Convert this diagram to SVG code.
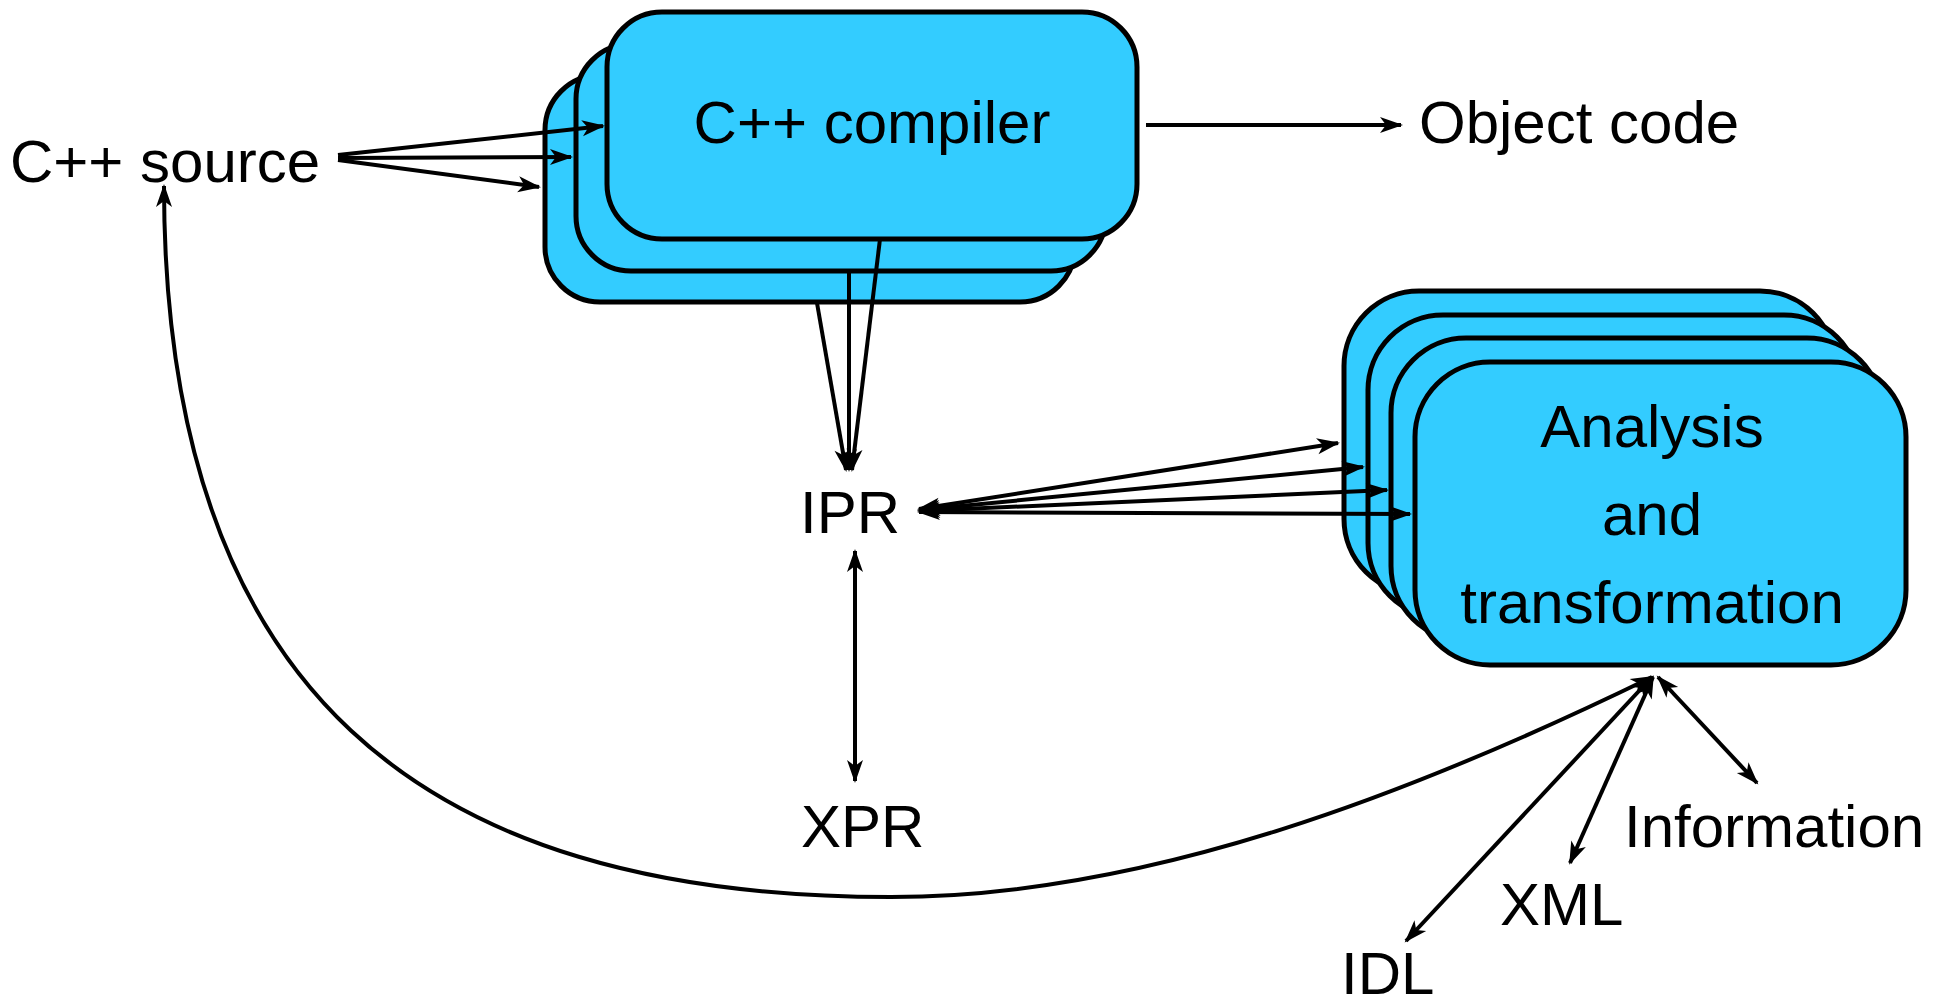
<svg xmlns="http://www.w3.org/2000/svg" width="1946" height="1005" viewBox="0 0 1946 1005">
<style>
.box{fill:#33ccff;stroke:#000;stroke-width:5}
.lbl{font-family:"Liberation Sans",Arial,sans-serif;font-size:60px;fill:#000}
.c{fill:none;stroke:#000;stroke-width:4}
.one{marker-end:url(#ah)}
.two{marker-start:url(#ah);marker-end:url(#ah)}
</style>
<defs>
<marker id="ah" markerUnits="userSpaceOnUse" orient="auto-start-reverse" viewBox="-25 -10 30 20" refX="0" refY="0" markerWidth="30" markerHeight="20" overflow="visible">
<path d="M2,0 L-21,-8 L-15,0 L-21,8 Z" fill="#000"/>
</marker>
</defs>
<rect width="1946" height="1005" fill="#fff"/>
<g id="cpp-source"><text class="lbl" x="10" y="182">C++ source</text></g>
<g id="cpp-compiler">
<rect class="box" x="545" y="75" width="530" height="227" rx="55"/>
<rect class="box" x="576" y="44" width="530" height="227" rx="55"/>
<rect class="box" x="607" y="12" width="530" height="227" rx="55"/>
<text class="lbl" x="872" y="143" text-anchor="middle">C++ compiler</text>
</g>
<g id="object-code"><text class="lbl" x="1419" y="143">Object code</text></g>
<g id="ipr"><text class="lbl" x="800" y="533">IPR</text></g>
<g id="xpr"><text class="lbl" x="801" y="847">XPR</text></g>
<g id="analysis">
<rect class="box" x="1344" y="291" width="491" height="303" rx="75"/>
<rect class="box" x="1368" y="315" width="491" height="303" rx="75"/>
<rect class="box" x="1391" y="338" width="491" height="303" rx="75"/>
<rect class="box" x="1415" y="362" width="491" height="303" rx="75"/>
<text class="lbl" x="1652" y="447" text-anchor="middle">Analysis</text>
<text class="lbl" x="1652" y="535" text-anchor="middle">and</text>
<text class="lbl" x="1652" y="623" text-anchor="middle">transformation</text>
</g>
<g id="information"><text class="lbl" x="1624" y="847">Information</text></g>
<g id="xml"><text class="lbl" x="1500" y="925">XML</text></g>
<g id="idl"><text class="lbl" x="1341" y="994">IDL</text></g>
<g id="connectors">
<line class="c one" x1="338" y1="155" x2="603" y2="126"/>
<line class="c one" x1="338" y1="158" x2="571" y2="157"/>
<line class="c one" x1="338" y1="160" x2="539" y2="187"/>
<line class="c one" x1="1146" y1="125" x2="1401" y2="125"/>
<line class="c one" x1="817" y1="303" x2="846" y2="470"/>
<line class="c one" x1="849" y1="270" x2="849" y2="470"/>
<line class="c one" x1="880" y1="239" x2="852" y2="470"/>
<line class="c two" x1="919" y1="509" x2="1338" y2="443"/>
<line class="c two" x1="919" y1="510" x2="1363" y2="467"/>
<line class="c two" x1="919" y1="511" x2="1387" y2="490"/>
<line class="c two" x1="919" y1="512" x2="1410" y2="514"/>
<line class="c two" x1="855" y1="551" x2="855" y2="781"/>
<line class="c two" x1="1658" y1="677" x2="1757" y2="783"/>
<line class="c two" x1="1653" y1="677" x2="1570" y2="863"/>
<line class="c two" x1="1652" y1="677" x2="1406" y2="941"/>
<path class="c two" d="M1652,677 C1420,790 1150,897 891,897 C420,897 164,690 164,186"/>
</g>
</svg>
